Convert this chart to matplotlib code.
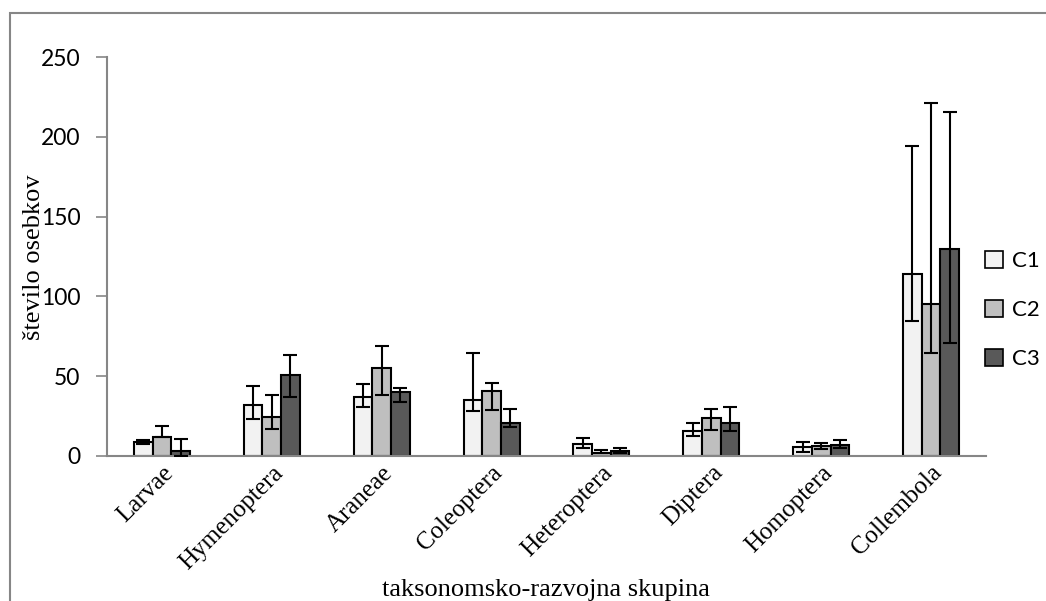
import numpy as np
import matplotlib.pyplot as plt
from matplotlib.patches import Rectangle, Patch

#categories and series values
groups = ['Larvae', 'Hymenoptera', 'Araneae', 'Coleoptera',
          'Heteroptera', 'Diptera', 'Homoptera', 'Collembola']
c1 = [8.6, 32, 36.8, 34.9, 7.5, 15.5, 5.4, 114]
c2 = [12, 24.6, 55.3, 40.9, 2.1, 23.8, 6, 95.2]
c3 = [3.3, 50.8, 39.9, 20.9, 2.9, 20.5, 7, 129.5]
#error bars (minus / plus)
c1_lo = [1.1, 9, 5.9, 6.7, 2.5, 3, 2.7, 29.6]
c1_hi = [1.2, 11.6, 8.5, 29.6, 3.8, 5.2, 3.6, 80.2]
c2_lo = [0, 7.6, 16.9, 12.1, 0.5, 7.5, 1.5, 30.5]
c2_hi = [6.5, 13.8, 13.8, 5, 1.7, 5.9, 2, 125.8]
c3_lo = [3.3, 14, 6.1, 2.5, 0.9, 4.8, 2, 58.9]
c3_hi = [7.1, 12.5, 2.5, 8.3, 2.1, 10, 3, 86.2]
names = ['C1', 'C2', 'C3']
colors = ['#f2f2f2', '#bfbfbf', '#595959']

fig = plt.figure(figsize=(10.46, 6.01), dpi=100)
ax = fig.add_axes([107/1046, 1-456/601, 879/1046, 399/601])

x = np.arange(len(groups))
w = 0.17
series = [(c1, c1_lo, c1_hi), (c2, c2_lo, c2_hi), (c3, c3_lo, c3_hi)]
for k, (vals, lo, hi) in enumerate(series):
    pos = x + (k-1)*w
    ax.bar(pos, vals, w, color=colors[k], edgecolor='black', linewidth=1.5,
           zorder=2)
    ax.errorbar(pos, vals, yerr=[lo, hi], fmt='none', ecolor='black',
                elinewidth=1.5, capsize=5, capthick=1.5, zorder=3)

ax.set_xlim(-0.5, len(groups)-0.5)
ax.set_ylim(0, 250)
ax.set_yticks(range(0, 251, 50))
for s in ['top', 'right']:
    ax.spines[s].set_visible(False)
for s in ['left', 'bottom']:
    ax.spines[s].set_color('#868686')
    ax.spines[s].set_linewidth(1.5)
ax.tick_params(axis='y', length=8, width=1.2, color='#868686', pad=11,
               labelsize=16.5)
ax.tick_params(axis='x', length=0, pad=4)
for t in ax.get_yticklabels():
    t.set_family('Lato')

ax.set_xticks(x)
ax.set_xticklabels(groups, rotation=45, ha='right', va='top',
                   rotation_mode='anchor', family='Liberation Serif',
                   fontsize=18)

#axis titles
ax.set_ylabel('število osebkov', family='Liberation Serif', fontsize=19)
ax.yaxis.set_label_coords((45-107)/879, (456-257)/399)
fig.text(546/1046, 1-590/601, 'taksonomsko-razvojna skupina',
         family='Liberation Serif', fontsize=19, ha='center', va='center')

#legend at the right
handles = [Patch(facecolor=colors[k], edgecolor='black', linewidth=1.2,
                 label=names[k]) for k in range(3)]
fig.legend(handles=handles, loc='center left',
           bbox_to_anchor=(985/1046, 1-310/601), frameon=False,
           borderpad=0, borderaxespad=0,
           prop={'family': 'Lato', 'size': 16}, handlelength=0.8,
           handleheight=0.8, handletextpad=0.4, labelspacing=1.3)

#outer chart frame
fig.add_artist(Rectangle((10/1046, -0.2), 1.2, 1.2 - 13/601,
                         transform=fig.transFigure, fill=False,
                         edgecolor='#868686', linewidth=1.5))

fig.savefig('out.png', dpi=100)
